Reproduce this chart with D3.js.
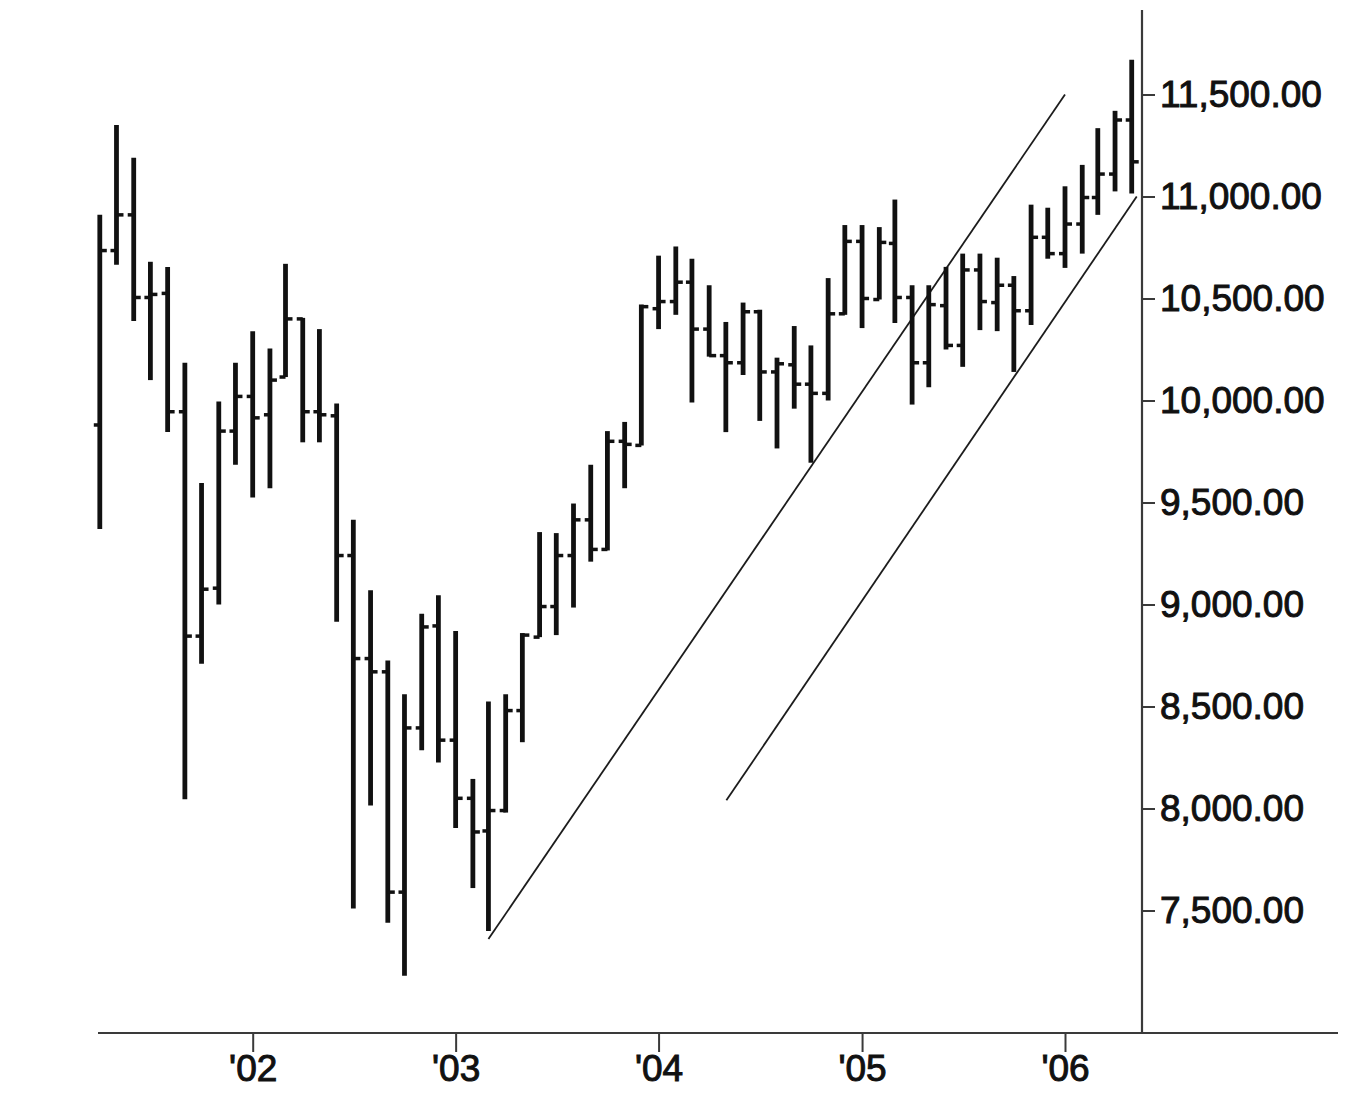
<!DOCTYPE html>
<html>
<head>
<meta charset="utf-8">
<script src="https://cdn.jsdelivr.net/npm/d3@7"></script>
<style>
  html, body { margin: 0; padding: 0; background: #ffffff; }
  svg { display: block; }
  text { font-family: "Liberation Sans", Arial, Helvetica, sans-serif; }
</style>
</head>
<body>
<svg id="chart" width="1366" height="1106"></svg>
<script>
// ---- Data (monthly OHLC) ----
const months = [
  "2001-04","2001-05","2001-06","2001-07","2001-08","2001-09","2001-10","2001-11","2001-12",
  "2002-01","2002-02","2002-03","2002-04","2002-05","2002-06","2002-07","2002-08","2002-09","2002-10","2002-11","2002-12",
  "2003-01","2003-02","2003-03","2003-04","2003-05","2003-06","2003-07","2003-08","2003-09","2003-10","2003-11","2003-12",
  "2004-01","2004-02","2004-03","2004-04","2004-05","2004-06","2004-07","2004-08","2004-09","2004-10","2004-11","2004-12",
  "2005-01","2005-02","2005-03","2005-04","2005-05","2005-06","2005-07","2005-08","2005-09","2005-10","2005-11","2005-12",
  "2006-01","2006-02","2006-03","2006-04","2006-05"
];
const opens = [
  9880,10735,10910,10505,10525,9945,8845,9080,9850,
  10020,9930,10115,10400,9945,9925,9240,8735,8670,7590,8395,8895,
  8335,8050,7890,7990,8480,8840,8990,9240,9415,9270,9800,9780,
  10450,10485,10580,10350,10220,10185,10435,10140,10175,10080,10035,10425,
  10780,10495,10770,10505,10185,10465,10270,10640,10480,10565,10440,10800,
  10720,10865,10995,11110,11375
];
const highs = [
  10910,11350,11190,10680,10655,10185,9595,9995,10185,
  10340,10255,10670,10405,10350,9985,9415,9070,8725,8560,8955,9045,
  8870,8145,8525,8560,8860,9355,9350,9495,9685,9850,9895,10470,
  10710,10755,10695,10565,10385,10480,10445,10210,10365,10270,10600,10860,
  10860,10850,10985,10565,10565,10655,10720,10720,10700,10610,10960,10945,
  11050,11155,11335,11420,11670
];
const lows = [
  9370,10665,10390,10100,9845,8045,8710,9000,9685,
  9525,9570,10115,9795,9795,8915,7510,8015,7440,7180,8285,8225,
  7905,7610,7400,7980,8325,8840,8850,8985,9210,9265,9570,9780,
  10350,10420,9990,10215,9845,10125,9900,9765,9960,9695,10000,10420,
  10355,10495,10380,9980,10065,10250,10165,10345,10340,10140,10370,10695,
  10650,10720,10910,11025,11015
];
const closes = [
  10735,10910,10505,10520,9945,8845,9075,9850,10020,
  9915,10100,10400,9945,9930,9240,8735,8670,7590,8395,8890,8335,
  8050,7885,7990,8480,8850,8990,9240,9415,9270,9800,9785,10460,
  10485,10580,10350,10220,10185,10435,10140,10180,10080,10035,10425,10780,
  10500,10775,10505,10185,10470,10270,10640,10485,10565,10440,10800,10720,
  10865,10995,11110,11375,11170
];

// Trend channel lines (date, value) endpoints
const upperLineDates = ["2003-03-01", "2006-01-01"];
const upperLineValues = [7360, 11500];
const lowerLineDates = ["2004-05-02", "2006-05-10"];
const lowerLineValues = [8040, 11000];

// Axis ticks
const yTicks = [7500, 8000, 8500, 9000, 9500, 10000, 10500, 11000, 11500];
const xTickDates = ["2002-01-01", "2003-01-01", "2004-01-01", "2005-01-01", "2006-01-01"];
const xTickLabels = ["'02", "'03", "'04", "'05", "'06"];

// ---- Scales ----
const parseMonth = s => { const [y, m] = s.split("-").map(Number); return new Date(Date.UTC(y, m - 1, 1)); };
const parseDay = s => { const [y, m, d] = s.split("-").map(Number); return new Date(Date.UTC(y, m - 1, d)); };

const x = d3.scaleUtc()
  .domain([parseDay("2002-01-01"), parseDay("2006-01-01")])
  .range([252.7, 1065]);
const y = d3.scaleLinear()
  .domain([7500, 11500])
  .range([910.5, 94.5]);

const svg = d3.select("#chart");
const ink = "#111111";
const axisColor = "#3a3a3a";

// ---- Axes lines (frame) ----
const axisY = 1033, axisX = 1142;
svg.append("line")
  .attr("x1", 98).attr("x2", 1338).attr("y1", axisY).attr("y2", axisY)
  .attr("stroke", axisColor).attr("stroke-width", 2.2);
svg.append("line")
  .attr("x1", axisX).attr("x2", axisX).attr("y1", 10).attr("y2", axisY)
  .attr("stroke", axisColor).attr("stroke-width", 2.2);

// X axis
const xAxis = d3.axisBottom(x)
  .tickValues(xTickDates.map(parseDay))
  .tickFormat((d, i) => xTickLabels[i])
  .tickSize(19)
  .tickPadding(3);
const gx = svg.append("g").attr("transform", `translate(0,${axisY})`).call(xAxis);
gx.select(".domain").remove();
gx.selectAll(".tick line").attr("stroke", axisColor).attr("stroke-width", 2);
gx.selectAll(".tick text")
  .attr("fill", ink).attr("stroke", ink).attr("stroke-width", 1)
  .style("font-size", "37px");

// Y axis
const yAxis = d3.axisRight(y)
  .tickValues(yTicks)
  .tickFormat(d3.format(",.2f"))
  .tickSize(13)
  .tickPadding(5);
const gy = svg.append("g").attr("transform", `translate(${axisX},0)`).call(yAxis);
gy.select(".domain").remove();
gy.selectAll(".tick line").attr("stroke", axisColor).attr("stroke-width", 2);
gy.selectAll(".tick text")
  .attr("fill", ink).attr("stroke", ink).attr("stroke-width", 1)
  .style("font-size", "37px");

// ---- Trend lines ----
const lineGen = d3.line().x(d => x(d[0])).y(d => y(d[1]));
[[upperLineDates, upperLineValues], [lowerLineDates, lowerLineValues]].forEach(([ds, vs]) => {
  svg.append("path")
    .attr("d", lineGen(ds.map((d, i) => [parseDay(d), vs[i]])))
    .attr("fill", "none")
    .attr("stroke", "#1c1c1c")
    .attr("stroke-width", 1.8);
});

// ---- OHLC bars ----
const bars = months.map((m, i) => ({ date: parseMonth(m), o: opens[i], h: highs[i], l: lows[i], c: closes[i] }));
const g = svg.append("g");
const bg = g.selectAll("g.bar").data(bars).join("g").attr("class", "bar");
bg.append("line")
  .attr("x1", d => x(d.date)).attr("x2", d => x(d.date))
  .attr("y1", d => y(d.h)).attr("y2", d => y(d.l))
  .attr("stroke", ink).attr("stroke-width", 4.8);
bg.append("line")
  .attr("x1", d => x(d.date) - 6).attr("x2", d => x(d.date))
  .attr("y1", d => y(d.o)).attr("y2", d => y(d.o))
  .attr("stroke", ink).attr("stroke-width", 3.5);
bg.append("line")
  .attr("x1", d => x(d.date)).attr("x2", d => x(d.date) + 7)
  .attr("y1", d => y(d.c)).attr("y2", d => y(d.c))
  .attr("stroke", ink).attr("stroke-width", 3.5);
</script>
</body>
</html>
